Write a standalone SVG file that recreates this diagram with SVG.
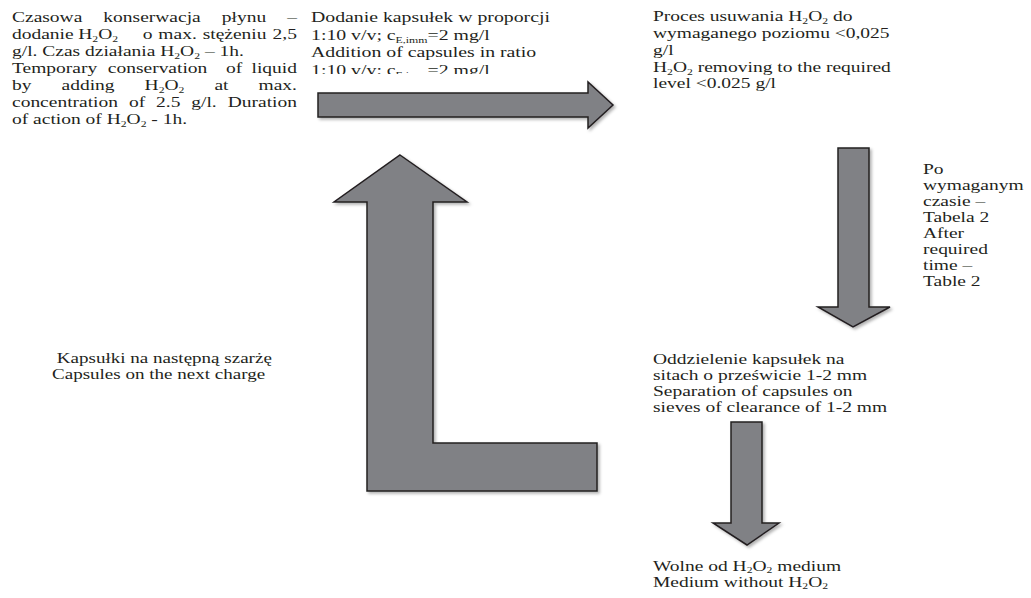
<svg xmlns="http://www.w3.org/2000/svg" width="1031" height="598" viewBox="0 0 1031 598">
<style>
.t{font-family:"Liberation Serif","Times New Roman",serif;font-size:15px;fill:#231f20}
.s{font-size:9px}
.e{text-anchor:end}
.arrow{fill:#808185;stroke:#231f20;stroke-width:1.5;stroke-linejoin:miter;filter:url(#sh)}
</style>
<defs>
<filter id="sh" x="-10%" y="-10%" width="130%" height="130%">
<feDropShadow dx="2" dy="2" stdDeviation="1.5" flood-color="#000" flood-opacity="0.3"/>
</filter>
<clipPath id="clipMid"><rect x="-20" y="0" width="300" height="74"/></clipPath>
</defs>
<rect width="1031" height="598" fill="#fff"/>
<g id="connectors">
<polygon class="arrow" points="318,93 588,93 588,82 613,105 588,128 588,117 318,117"/>
<polygon class="arrow" points="838,148 869,148 869,307 890,307 853,327 818,307 838,307"/>
<polygon class="arrow" points="400,155 467,202 433,202 433,443 597,443 597,491 367,491 367,202 334,202"/>
<polygon class="arrow" points="731,422 762,422 762,523 779,523 747,545 713,523 731,523"/>
</g>
<g id="node-conservation" transform="translate(12,0) scale(1.3,1)">
<text class="t" y="22"><tspan x="0">Czasowa</tspan><tspan x="70.3">konserwacja</tspan><tspan x="161.4">płynu</tspan><tspan class="e" x="219.2">–</tspan></text>
<text class="t" y="39"><tspan x="0">dodanie</tspan><tspan x="51">H</tspan><tspan class="s" dy="3">2</tspan><tspan dy="-3">O</tspan><tspan class="s" dy="3">2</tspan><tspan x="100.6" dy="-3">o</tspan><tspan x="112.6">max.</tspan><tspan x="146.7">stężeniu</tspan><tspan class="e" x="219.2">2,5</tspan></text>
<text class="t" x="0" y="56">g/l. Czas działania H<tspan class="s" dy="3">2</tspan><tspan dy="-3">O</tspan><tspan class="s" dy="3">2</tspan><tspan dy="-3"> – 1h.</tspan></text>
<text class="t" y="73"><tspan x="0">Temporary</tspan><tspan x="73.7">conservation</tspan><tspan x="164.6">of</tspan><tspan class="e" x="219.2">liquid</tspan></text>
<text class="t" y="90"><tspan x="0">by</tspan><tspan x="38.1">adding</tspan><tspan x="102">H</tspan><tspan class="s" dy="3">2</tspan><tspan dy="-3">O</tspan><tspan class="s" dy="3">2</tspan><tspan x="155.7" dy="-3">at</tspan><tspan class="e" x="219.2">max.</tspan></text>
<text class="t" y="107"><tspan x="0">concentration</tspan><tspan x="90">of</tspan><tspan x="110.8">2.5</tspan><tspan x="137.9">g/l.</tspan><tspan class="e" x="219.2">Duration</tspan></text>
<text class="t" x="0" y="124">of action of H<tspan class="s" dy="3">2</tspan><tspan dy="-3">O</tspan><tspan class="s" dy="3">2</tspan><tspan dy="-3"> - 1h.</tspan></text>
</g>
<g id="node-addition" transform="translate(311,0) scale(1.32,1)">
<text class="t" x="0" y="22">Dodanie kapsułek w proporcji</text>
<text class="t" x="0" y="40">1:10 v/v; c<tspan class="s" dy="3">E,imm</tspan><tspan dy="-3">=2 mg/l</tspan></text>
<text class="t" x="0" y="57">Addition of capsules in ratio</text>
<g clip-path="url(#clipMid)"><text class="t" x="0" y="75">1:10 v/v; c<tspan class="s" dy="3">E,imm</tspan><tspan dy="-3">=2 mg/l</tspan></text></g>
</g>
<g id="node-removing" transform="translate(653,0) scale(1.3,1)">
<text class="t" x="0" y="21">Proces usuwania H<tspan class="s" dy="3">2</tspan><tspan dy="-3">O</tspan><tspan class="s" dy="3">2</tspan><tspan dy="-3"> do</tspan></text>
<text class="t" x="0" y="38">wymaganego poziomu &lt;0,025</text>
<text class="t" x="0" y="55">g/l</text>
<text class="t" x="0" y="72">H<tspan class="s" dy="3">2</tspan><tspan dy="-3">O</tspan><tspan class="s" dy="3">2</tspan><tspan dy="-3"> removing to the required</tspan></text>
<text class="t" x="0" y="88">level &lt;0.025 g/l</text>
</g>
<g id="node-time" transform="translate(923,0) scale(1.3,1)">
<text class="t" x="0" y="174">Po</text>
<text class="t" x="0" y="190">wymaganym</text>
<text class="t" x="0" y="206">czasie –</text>
<text class="t" x="0" y="222">Tabela 2</text>
<text class="t" x="0" y="238">After</text>
<text class="t" x="0" y="254">required</text>
<text class="t" x="0" y="270">time –</text>
<text class="t" x="0" y="286">Table 2</text>
</g>
<g id="node-capsules" transform="translate(52,0) scale(1.27,1)">
<text class="t" x="3.8" y="363">Kapsułki na następną szarżę</text>
<text class="t" x="0" y="379">Capsules on the next charge</text>
</g>
<g id="node-separation" transform="translate(653,0) scale(1.3,1)">
<text class="t" x="0" y="364">Oddzielenie kapsułek na</text>
<text class="t" x="0" y="380">sitach o prześwicie  1-2 mm</text>
<text class="t" x="0" y="396">Separation of capsules on</text>
<text class="t" x="0" y="412">sieves of clearance of 1-2 mm</text>
</g>
<g id="node-medium" transform="translate(653,0) scale(1.3,1)">
<text class="t" x="0" y="571">Wolne od H<tspan class="s" dy="2.5">2</tspan><tspan dy="-2.5">O</tspan><tspan class="s" dy="2.5">2</tspan><tspan dy="-2.5"> medium</tspan></text>
<text class="t" x="0" y="587">Medium without H<tspan class="s" dy="2.5">2</tspan><tspan dy="-2.5">O</tspan><tspan class="s" dy="2.5">2</tspan></text>
</g>
</svg>
